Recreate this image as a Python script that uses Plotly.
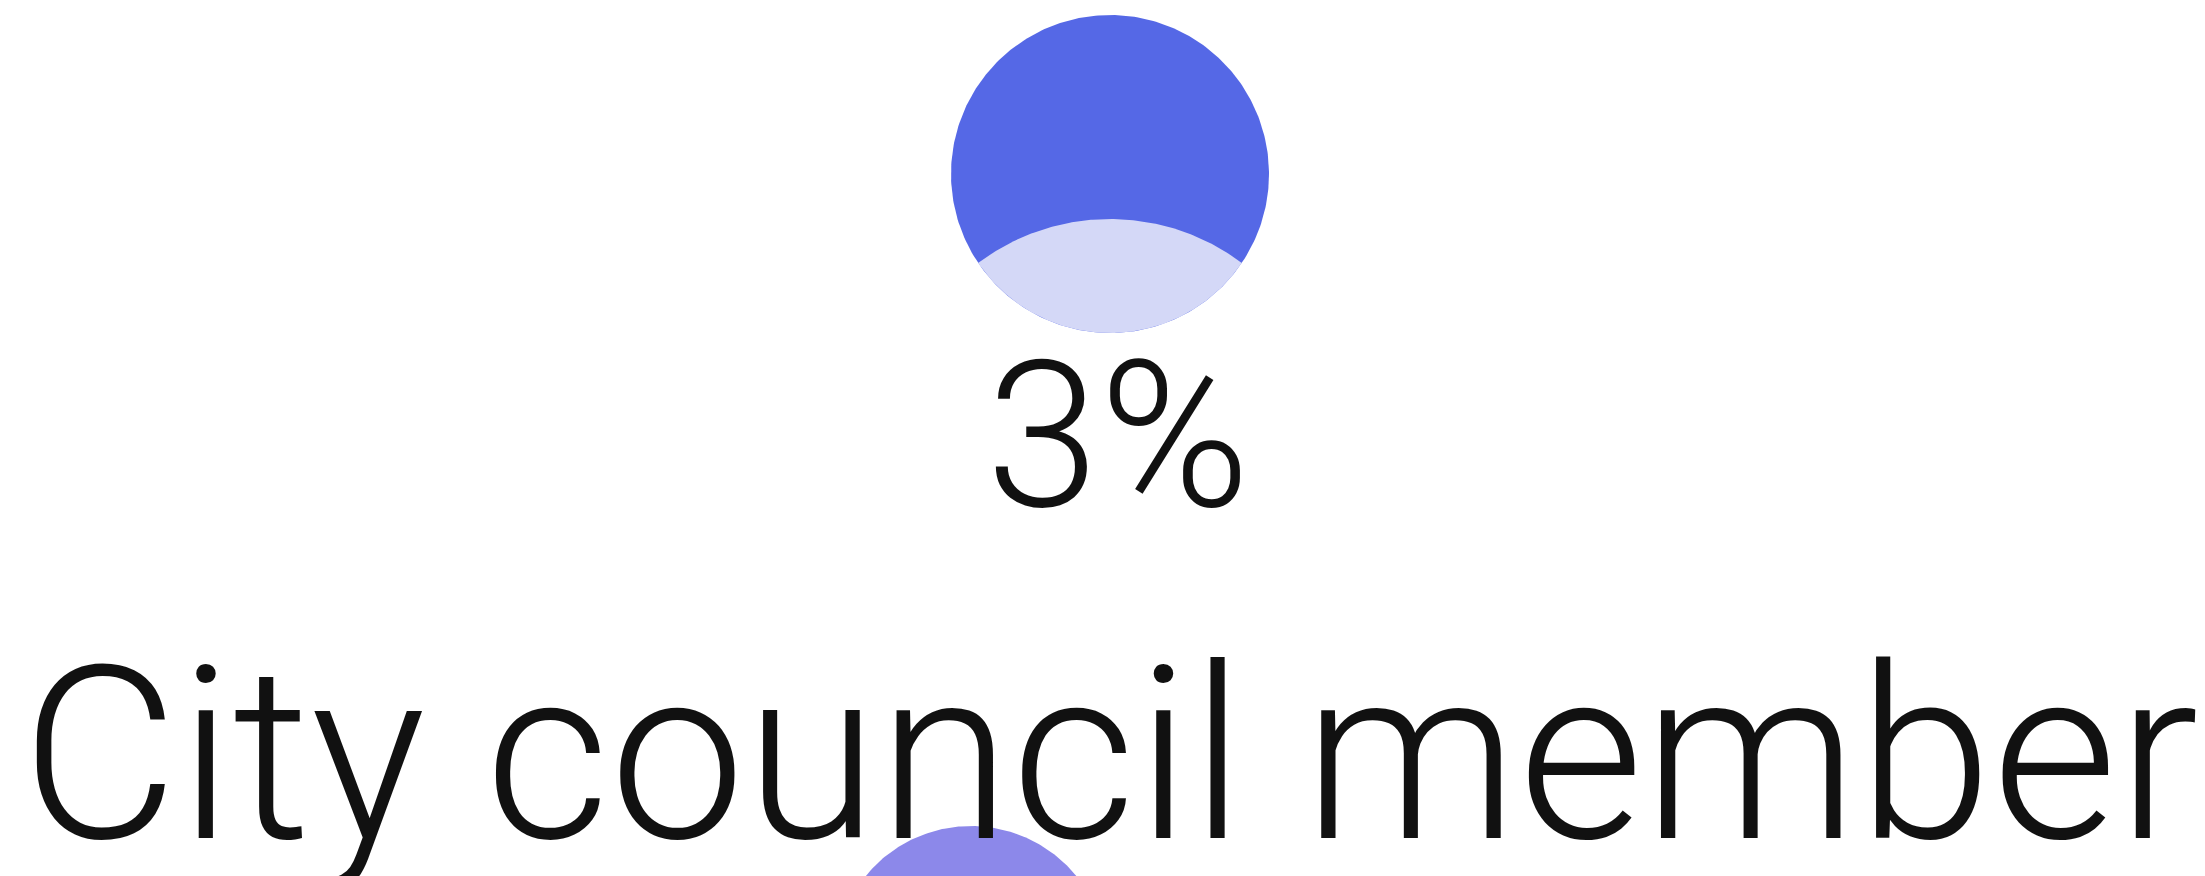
import numpy as np
import plotly.graph_objects as go

# ---- data ----
categories = ["City council member"]
values_pct = [3]
value_labels = ["3%"]

# ---- layout constants (pixels) ----
W, H = 2205, 876
C1 = (1102, 166); R1 = 159          # main bubble
C2 = (1102, 431); R2 = 220          # light cap circle
C3 = (963, 954); R3 = 136           # next bubble (cut off)
DARK = "#5568e6"
LIGHT = "#d4d8f7"
PURPLE = "#8c88ea"
FONT = "Roboto"

def circle(c, r, n=360):
    t = np.linspace(0, 2 * np.pi, n)
    return c[0] + r * np.cos(t), c[1] + r * np.sin(t)

def intersection(ca, ra, cb, rb, n=720):
    t = np.linspace(0, 2 * np.pi, n, endpoint=False)
    pts = []
    for (c, r, oc, orr) in [(ca, ra, cb, rb), (cb, rb, ca, ra)]:
        x = c[0] + r * np.cos(t); y = c[1] + r * np.sin(t)
        m = (x - oc[0]) ** 2 + (y - oc[1]) ** 2 <= orr ** 2
        pts += list(zip(x[m], y[m]))
    pts = np.array(pts)
    cx, cy = pts.mean(axis=0)
    order = np.argsort(np.arctan2(pts[:, 1] - cy, pts[:, 0] - cx))
    pts = pts[order]
    return np.append(pts[:, 0], pts[0, 0]), np.append(pts[:, 1], pts[0, 1])

fig = go.Figure()
x, y = circle(C1, R1)
fig.add_trace(go.Scatter(x=x, y=y, fill="toself", fillcolor=DARK, mode="lines",
                         line=dict(width=0), hoverinfo="skip", showlegend=False))
x, y = intersection(C1, R1, C2, R2)
fig.add_trace(go.Scatter(x=x, y=y, fill="toself", fillcolor=LIGHT, mode="lines",
                         line=dict(width=0), hoverinfo="skip", showlegend=False))
x, y = circle(C3, R3)
fig.add_trace(go.Scatter(x=x, y=y, fill="toself", fillcolor=PURPLE, mode="lines",
                         line=dict(width=0), hoverinfo="skip", showlegend=False))

fig.add_trace(go.Scatter(x=[1110], y=[447], mode="text", text=value_labels,
                         textposition="middle center", cliponaxis=False,
                         textfont=dict(family=FONT, size=204, color="#111111", weight=300),
                         hoverinfo="skip", showlegend=False))
fig.add_trace(go.Scatter(x=[1102], y=[769], mode="text", text=categories,
                         textposition="middle center", cliponaxis=False,
                         textfont=dict(family=FONT, size=242, color="#111111", weight=300),
                         hoverinfo="skip", showlegend=False))

fig.update_layout(width=W, height=H, margin=dict(l=0, r=0, t=0, b=0),
                  paper_bgcolor="white", plot_bgcolor="white",
                  xaxis=dict(range=[0, W], visible=False, fixedrange=True),
                  yaxis=dict(range=[H, 0], visible=False, fixedrange=True))
fig.write_html("out.html")
